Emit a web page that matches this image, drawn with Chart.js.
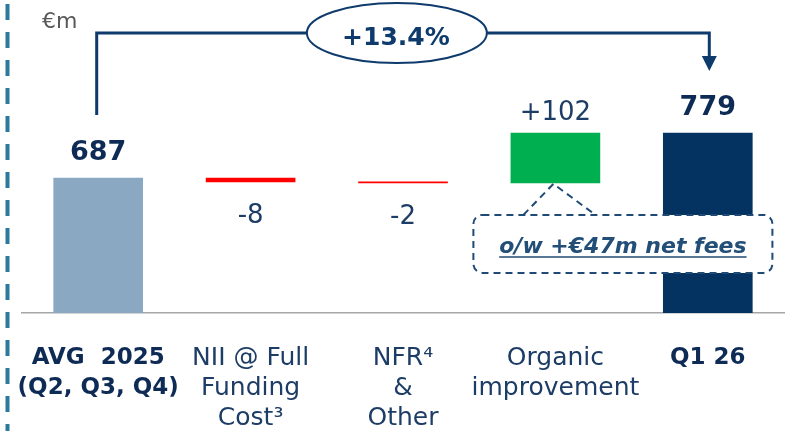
<!DOCTYPE html>
<html>
<head>
<meta charset="utf-8">
<script src="https://cdn.jsdelivr.net/npm/chart.js@4/dist/chart.umd.min.js"></script>
<style>
    html, body { margin: 0; padding: 0; background: #fff; }
    #wrap { position: relative; width: 787px; height: 431px; }
</style>
</head>
<body>
<div id="wrap"><canvas id="nii-bridge"></canvas></div>
<script>
// NII bridge, avg 2025 -> Q1 26 (EUR m)
const categories = [
    ['AVG  2025', '(Q2, Q3, Q4)'],
    ['NII @ Full', 'Funding', 'Cost³'],
    ['NFR⁴', '&', 'Other'],
    ['Organic', 'improvement'],
    ['Q1 26']
];
const steps = [687, -8, -2, 102, 779];
const isTotal = [true, false, false, false, true];
const valueLabels = ['687', '-8', '-2', '+102', '779'];
const growthLabel = '+13.4%';
const noteLabel = 'o/w +€47m net fees';
const unitLabel = '€m';
const axisMin = 411;
const axisMax = 1010;

const FONT = '"DejaVu Sans", sans-serif';
const NAVY = '#0E3B6C';
const barColors = ['#8BA8C3', '#FF0000', '#FF0000', '#00B050', '#053361'];

// floating bars for the waterfall
let running = 0;
const ranges = steps.map((v, i) => {
    if (isTotal[i]) {
        running = v;
        return [axisMin, v];
    }
    const from = running;
    running += v;
    return [Math.min(from, running), Math.max(from, running)];
});

const bridgeDecor = {
    id: 'bridgeDecor',
    beforeDraw(chart) {
        const ctx = chart.ctx;
        ctx.save();
        // left dashed rule
        ctx.strokeStyle = '#2B7A9E';
        ctx.lineWidth = 4;
        ctx.setLineDash([16, 12]);
        ctx.beginPath();
        ctx.moveTo(7.5, 4);
        ctx.lineTo(7.5, chart.height);
        ctx.stroke();
        ctx.setLineDash([]);
        // unit
        ctx.fillStyle = '#595959';
        ctx.font = '22px ' + FONT;
        ctx.textAlign = 'left';
        ctx.textBaseline = 'alphabetic';
        ctx.fillText(unitLabel, 42, 28);
        ctx.restore();
    },
    afterDatasetsDraw(chart) {
        const ctx = chart.ctx;
        const bars = chart.getDatasetMeta(0).data;
        ctx.save();
        ctx.textAlign = 'center';
        ctx.textBaseline = 'alphabetic';

        // value labels
        bars.forEach((bar, i) => {
            if (isTotal[i]) {
                ctx.font = 'bold 27px ' + FONT;
                ctx.fillStyle = '#0D2B55';
                ctx.fillText(valueLabels[i], bar.x, bar.y - 18);
            } else if (steps[i] < 0) {
                ctx.font = '26px ' + FONT;
                ctx.fillStyle = '#1E3D66';
                ctx.fillText(valueLabels[i], bar.x, bar.base + 41);
            } else {
                ctx.font = '26px ' + FONT;
                ctx.fillStyle = '#1E3D66';
                ctx.fillText(valueLabels[i], bar.x, bar.y - 13);
            }
        });

        // growth bracket with arrow
        const first = bars[0], last = bars[bars.length - 1];
        const lx = first.x - 1.5, rx = last.x + 1.5;
        const topY = chart.chartArea.top + 13;
        ctx.strokeStyle = NAVY;
        ctx.fillStyle = NAVY;
        ctx.lineWidth = 3;
        ctx.beginPath();
        ctx.moveTo(lx, first.y - 63);
        ctx.lineTo(lx, topY);
        ctx.lineTo(rx, topY);
        ctx.lineTo(rx, last.y - 76);
        ctx.stroke();
        ctx.beginPath();
        ctx.moveTo(rx - 7.5, last.y - 77);
        ctx.lineTo(rx + 7.5, last.y - 77);
        ctx.lineTo(rx, last.y - 62);
        ctx.closePath();
        ctx.fill();

        const ex = lx + (rx - lx) * 0.49;
        ctx.beginPath();
        ctx.ellipse(ex, topY, 90, 30, 0, 0, Math.PI * 2);
        ctx.fillStyle = '#fff';
        ctx.fill();
        ctx.lineWidth = 2;
        ctx.stroke();
        ctx.fillStyle = NAVY;
        ctx.font = 'bold 25px ' + FONT;
        ctx.fillText(growthLabel, ex - 1, topY + 12);

        // net fees callout under the organic bar
        const g = bars[3];
        const bx0 = g.x - 82, bx1 = g.x + 217;
        const by0 = g.base + 32, by1 = g.base + 90;
        ctx.strokeStyle = '#1F4A75';
        ctx.lineWidth = 2;
        ctx.setLineDash([7, 5]);
        ctx.beginPath();
        ctx.moveTo(g.x - 32, by0);
        ctx.lineTo(g.x - 2, g.base + 1);
        ctx.lineTo(g.x + 40, by0);
        ctx.stroke();
        ctx.beginPath();
        ctx.roundRect(bx0, by0, bx1 - bx0, by1 - by0, 9);
        ctx.fillStyle = '#fff';
        ctx.fill();
        ctx.stroke();
        ctx.setLineDash([]);

        const tx = (bx0 + bx1) / 2, ty = by0 + 38;
        ctx.font = 'italic bold 22px ' + FONT;
        ctx.fillStyle = '#234E78';
        ctx.fillText(noteLabel, tx, ty);
        const w = ctx.measureText(noteLabel).width;
        ctx.lineWidth = 1.5;
        ctx.beginPath();
        ctx.moveTo(tx - w / 2, ty + 4);
        ctx.lineTo(tx + w / 2, ty + 4);
        ctx.stroke();
        ctx.restore();
    }
};

new Chart(document.getElementById('nii-bridge'), {
    type: 'bar',
    data: {
        labels: categories,
        datasets: [{
            data: ranges,
            backgroundColor: barColors,
            borderWidth: 0,
            barThickness: 89
        }]
    },
    options: {
        responsive: true,
        maintainAspectRatio: false,
        animation: false,
        layout: { padding: { left: 22, right: 3, top: 20, bottom: 0 } },
        plugins: {
            legend: { display: false },
            tooltip: { enabled: false }
        },
        scales: {
            x: {
                grid: { display: false, drawTicks: false },
                border: { display: true, color: '#A6A6A6', width: 1.5 },
                ticks: {
                    padding: 30,
                    autoSkip: false,
                    maxRotation: 0,
                    color: ctx => isTotal[ctx.index] ? '#0D2B55' : '#1E3D66',
                    font: ctx => isTotal[ctx.index]
                        ? { family: FONT, size: 23, weight: 'bold', lineHeight: '30px' }
                        : { family: FONT, size: 25, lineHeight: '30px' }
                },
                // keep the label band fixed and let the labels overhang the edges
                afterFit(scale) {
                    scale.height = 118;
                    scale.paddingLeft = 0;
                    scale.paddingRight = 0;
                }
            },
            y: {
                display: false,
                min: axisMin,
                max: axisMax
            }
        }
    },
    plugins: [bridgeDecor]
});
</script>
</body>
</html>
